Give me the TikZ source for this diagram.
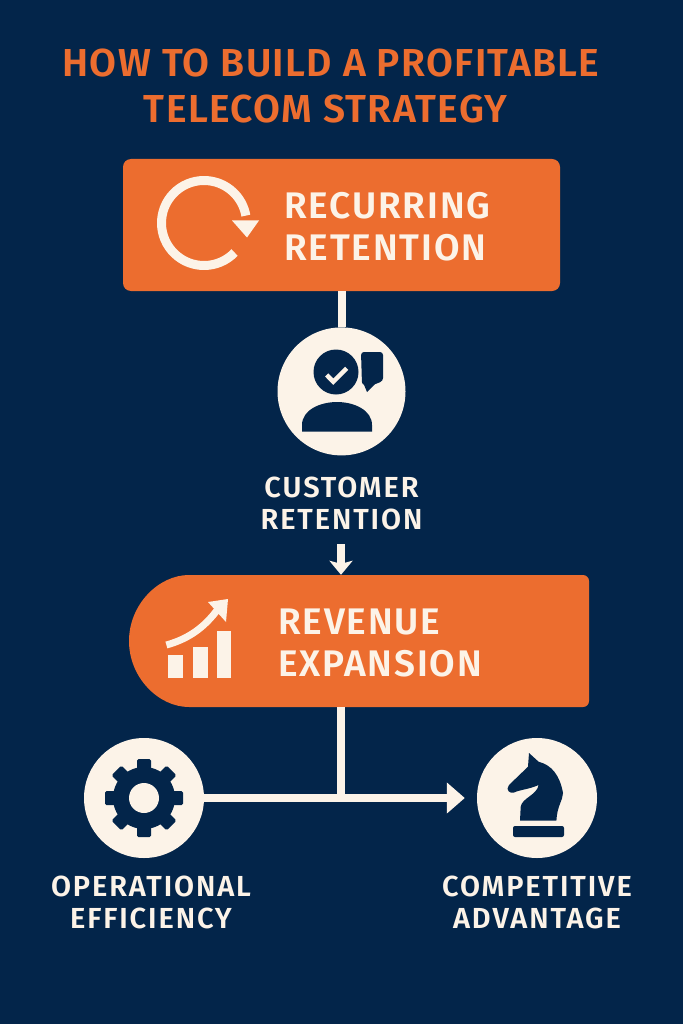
\documentclass[tikz,border=0pt]{standalone}
\usepackage{fontspec}
\setmainfont{Fira Sans SemiBold}
\usetikzlibrary{positioning, arrows.meta, shapes.misc}

\definecolor{navy}{HTML}{03254A}
\definecolor{rust}{HTML}{EC6D2F}
\definecolor{cream}{HTML}{FCF3E8}

\tikzset{
  x=1pt, y=1pt,
  banner/.style={fill=rust, inner sep=0pt, minimum width=#1, minimum height=132pt},
  badge/.style={circle, fill=cream, inner sep=0pt, minimum size=#1},
  flow/.style={draw=cream, line width=8pt},
  bigtext/.style={text=cream, align=left, inner sep=0pt,
    font=\addfontfeatures{LetterSpace=5}\fontsize{37}{42}\selectfont},
  smalltext/.style={text=cream, align=center, inner sep=0pt,
    font=\addfontfeatures{LetterSpace=6.5}\fontsize{29}{32}\selectfont},
  headtext/.style={text=rust, align=center, inner sep=0pt,
    font=\addfontfeatures{LetterSpace=3.5}\fontsize{39}{46}\selectfont},
}

\begin{document}
\begin{tikzpicture}
  \fill[navy] (0,0) rectangle (683,-1024);
  \useasboundingbox (0,0) rectangle (683,-1024);

  \node[headtext] (title) at (331,-86) {HOW TO BUILD A PROFITABLE\\TELECOM STRATEGY\hspace{11pt}\mbox{}};

  % boxes and badges
  \node[banner=437pt, rounded corners=8pt] (recur) at (341.5,-225) {};
  \node[badge=128pt, below=36pt of recur] (cust) {};
  \node[smalltext, below=21pt of cust] (custlab) {CUSTOMER\\RETENTION};
  \node[banner=460pt, rounded rectangle, rounded rectangle right arc=none, rounded corners=6pt]
    (rev) at (359,-641) {};
  \node[badge=120pt] (gear) at (144,-798) {};
  \node[badge=120pt] (chess) at (537,-798) {};
  \node[smalltext, below=18pt of gear, xshift=7pt] (gearlab) {OPERATIONAL\\EFFICIENCY};
  \node[smalltext, below=18pt of chess] (chesslab) {COMPETITIVE\\ADVANTAGE};

  \node[bigtext, anchor=west] (recurlab) at (284,-227) {RECURRING\\RETENTION};
  \node[bigtext, anchor=west] (revlab) at (278,-643) {REVENUE\\EXPANSION};

  % connectors
  \coordinate (drop) at (341,-544);
  \coordinate (junc) at (341,-798);
  \draw[flow] (recur) -- (cust);
  \draw[flow, -{Stealth[length=14pt, width=23pt, inset=3pt]}] (drop) -- (drop |- rev.north);
  \draw[flow] (junc |- rev.south) -- (junc);
  \draw[flow, shorten >=12pt, -{Triangle[length=18pt, width=30pt]}] (gear.east) -- (chess.west);

  % loop arrow
  \draw[cream, line width=9pt] ([shift={(-44:42.5)}]204,-223) arc[start angle=-44, end angle=-350, radius=42.5];
  \fill[cream] (232,-220.5) -- (259,-220.5) -- (247,-237.5) -- cycle;

  % person with tick and speech bubble
  \fill[navy] (336,-372) circle[radius=22.5];
  \draw[cream, line width=4.5pt] (326.7,-375) -- (333.3,-381.7) -- (346.7,-368.3);
  \fill[navy, rounded corners=3pt] (361,-352) -- (383,-352) -- (383,-381) -- (373,-385) -- (362,-385) -- cycle;
  \fill[navy] (362,-380) -- (367,-392) -- (376,-383) -- cycle;
  \fill[navy] (302,-431.7) -- (302,-425) .. controls (302,-410) and (320,-402) .. (337,-402)
    .. controls (354,-402) and (372,-410) .. (372,-425) -- (372,-431.7) -- cycle;

  % bars and rising arrow
  \fill[cream] (168.2,-655) rectangle (183.2,-678.3);
  \fill[cream] (193.2,-646.7) rectangle (207.5,-678.3);
  \fill[cream] (217,-631) rectangle (231.4,-678.3);
  \draw[cream, line width=7pt] (166.4,-645) .. controls (188,-639) and (204,-628) .. (218,-609);
  \fill[cream] (208,-602) -- (228,-599) -- (226,-622) -- cycle;

  % gear
  \begin{scope}[shift={(gear)}]
    \foreach \a in {0,45,...,315}
      \fill[navy, rotate=\a, rounded corners=1.5pt] (-7,26) rectangle (7,39);
    \fill[navy] (0,0) circle[radius=31];
    \fill[cream] (0,0) circle[radius=15];
  \end{scope}

  % knight
  \fill[navy] (529,-753) -- (538.6,-761.7) .. controls (552,-765) and (560,-776) .. (563,-793)
    .. controls (563,-800) and (557,-806) .. (556.4,-820.7) -- (520,-820.7) -- (520.7,-806.7)
    .. controls (522,-798) and (537,-795) .. (538.6,-785) .. controls (530,-789) and (519,-790) .. (514,-792.5)
    .. controls (510,-794) and (505,-790) .. (509,-785) -- (528,-766.7) -- cycle;
  \fill[navy, rounded corners=2pt] (513,-837) -- (513,-826) -- (564,-826) -- (564,-837) -- cycle;
\end{tikzpicture}
\end{document}
